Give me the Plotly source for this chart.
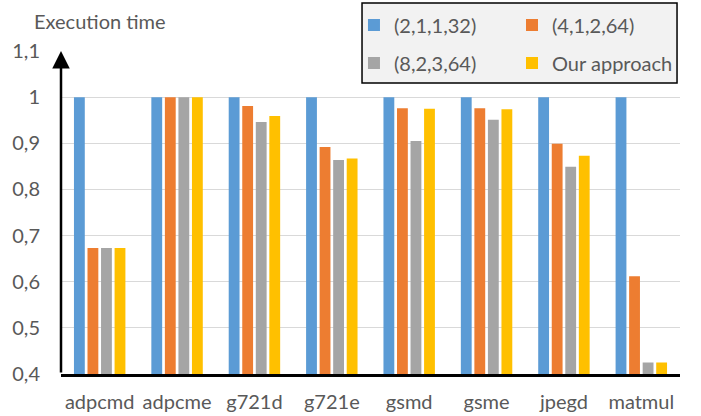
import plotly.graph_objects as go

categories = ["adpcmd", "adpcme", "g721d", "g721e", "gsmd", "gsme", "jpegd", "matmul"]
series_names = ["(2,1,1,32)", "(4,1,2,64)", "(8,2,3,64)", "Our approach"]
s1 = [1.0, 1.0, 1.0, 1.0, 1.0, 1.0, 1.0, 1.0]
s2 = [0.673, 1.0, 0.981, 0.892, 0.976, 0.976, 0.899, 0.612]
s3 = [0.673, 1.0, 0.946, 0.864, 0.905, 0.951, 0.849, 0.425]
s4 = [0.673, 1.0, 0.959, 0.867, 0.975, 0.974, 0.873, 0.425]
y_ticks = [0.4, 0.5, 0.6, 0.7, 0.8, 0.9, 1.0, 1.1]
colors = ["#5b9bd5", "#ed7d31", "#a5a5a5", "#ffc000"]
legend_ids = ["legend", "legend2", "legend3", "legend4"]

FONT = "Lato, 'Open Sans', sans-serif"
FS = 20
TXT = "#595959"
fig = go.Figure()
for name, vals, c, lg in zip(series_names, [s1, s2, s3, s4], colors, legend_ids):
    fig.add_trace(go.Bar(x=categories, y=vals, name=name, legend=lg,
                         marker=dict(color=c, line=dict(width=0))))

leg_common = dict(orientation="h", xref="paper", yref="paper",
                  xanchor="left", yanchor="middle", bgcolor="rgba(0,0,0,0)", borderwidth=0,
                  font=dict(size=FS, color=TXT))
col_x = [0.4733, 0.7286]
row_y = [1.0805, 0.963]

fig.update_layout(
    width=701, height=416,
    margin=dict(l=61, r=21, t=51, b=42, autoexpand=False),
    plot_bgcolor="white", paper_bgcolor="white",
    separators=", ",
    barmode="group", bargap=0.3, bargroupgap=0.2,
    font=dict(family=FONT, size=FS, color=TXT),
    xaxis=dict(showline=True, linecolor="black", linewidth=2.5, ticks="", tickfont=dict(size=FS, color=TXT),
               showgrid=False, ticklabelstandoff=8),
    yaxis=dict(range=[0.4, 1.1], tickvals=y_ticks, ticktext=[("%g" % v).replace(".", ",") for v in y_ticks],
               showgrid=True, gridcolor="#d9d9d9", gridwidth=1, zeroline=False, showline=False,
               ticks="", ticklabelstandoff=20, tickfont=dict(size=FS, color=TXT)),
    legend=dict(x=col_x[0], y=row_y[0], **leg_common),
    legend2=dict(x=col_x[1], y=row_y[0], **leg_common),
    legend3=dict(x=col_x[0], y=row_y[1], **leg_common),
    legend4=dict(x=col_x[1], y=row_y[1], **leg_common),
    showlegend=True,
)
fig.add_shape(type="rect", xref="paper", yref="paper", x0=0.4863, x1=0.9952, y0=0.901, y1=1.1486,
              fillcolor="#f2f2f2", line=dict(color="black", width=1.5), layer="above")
fig.add_annotation(xref="paper", yref="paper", x=-0.047, y=1.093, text="Execution time", showarrow=False,
                   xanchor="left", yanchor="middle", font=dict(size=FS, color=TXT))
fig.add_annotation(xref="paper", yref="y", x=0, y=1.1, axref="pixel", ayref="y", ax=0, ay=0.4,
                   text="", showarrow=True, arrowhead=2, arrowsize=1.4, arrowwidth=2.5, arrowcolor="black")
fig.write_html("out.html", config={"displayModeBar": False},
               post_script="document.body.style.margin='0';")
